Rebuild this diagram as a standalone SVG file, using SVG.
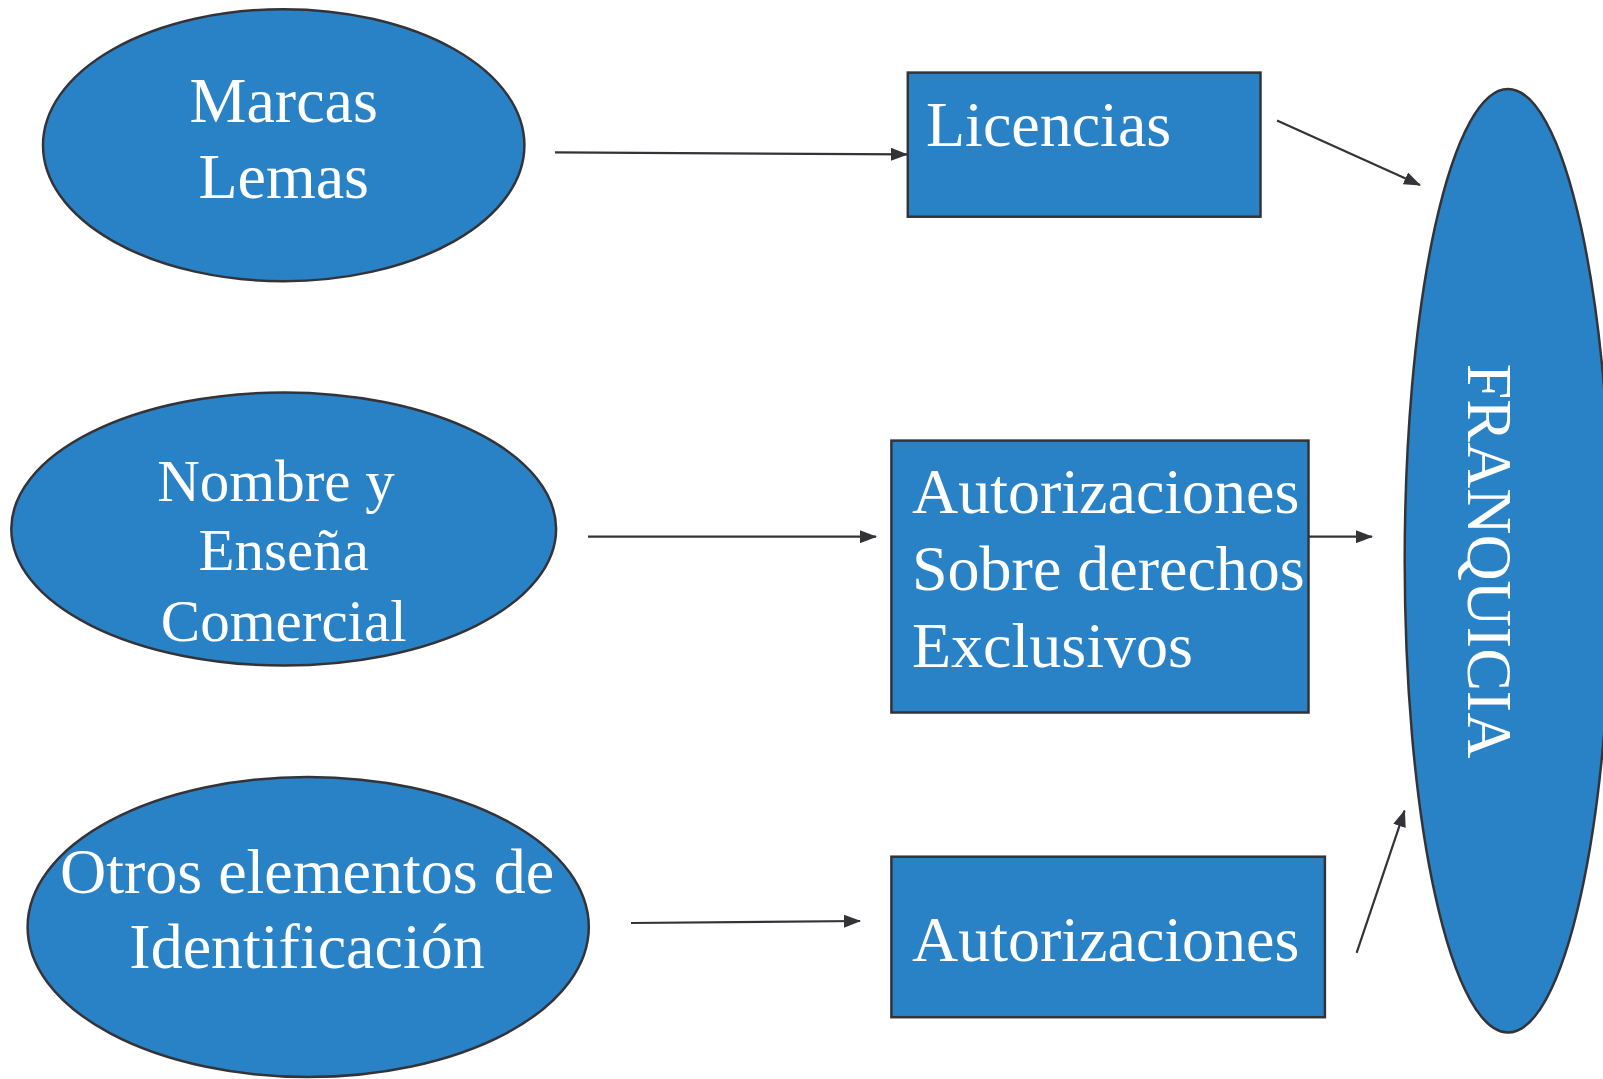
<svg xmlns="http://www.w3.org/2000/svg" width="1603" height="1079" viewBox="0 0 1603 1079">
<style>
.shape{fill:#2a82c6;stroke:#333338;stroke-width:2.5}
.lbl{font-family:"Liberation Serif","Times New Roman",serif;font-size:64px;fill:#ffffff}
.sm{font-size:59px}
.mid{text-anchor:middle}
.conn{stroke:#333338;stroke-width:2.2;fill:none;marker-end:url(#ah)}
</style>
<defs>
<marker id="ah" markerUnits="userSpaceOnUse" markerWidth="17" markerHeight="13" refX="16" refY="6.5" orient="auto">
<path d="M0,0 L17,6.5 L0,13 z" fill="#333338"/>
</marker>
</defs>
<rect width="1603" height="1079" fill="#ffffff"/>
<g id="connectors">
<line class="conn" x1="555" y1="152.3" x2="907" y2="154.4"/>
<line class="conn" x1="1277" y1="120.6" x2="1420" y2="185"/>
<line class="conn" x1="588" y1="536.7" x2="876" y2="536.7"/>
<line class="conn" x1="1309" y1="536.7" x2="1372" y2="536.7"/>
<line class="conn" x1="631" y1="923" x2="860" y2="921"/>
<line class="conn" x1="1356.6" y1="952.8" x2="1404.6" y2="810.7"/>
</g>
<g id="marcas">
<ellipse class="shape" cx="283.7" cy="145.2" rx="240.7" ry="136"/>
<text class="lbl mid" x="283.7" y="122">Marcas</text>
<text class="lbl mid" x="283.7" y="197.5">Lemas</text>
</g>
<g id="nombre">
<ellipse class="shape" cx="283.7" cy="529" rx="272.4" ry="136.5"/>
<text class="lbl sm mid" x="276" y="501">Nombre y</text>
<text class="lbl sm mid" x="283.7" y="570.4">Enseña</text>
<text class="lbl sm mid" x="283.7" y="641">Comercial</text>
</g>
<g id="otros">
<ellipse class="shape" cx="308.2" cy="927" rx="280.6" ry="150"/>
<text class="lbl mid" x="307" y="892.5">Otros elementos de</text>
<text class="lbl mid" x="307" y="968">Identificación</text>
</g>
<g id="licencias">
<rect class="shape" x="907.8" y="72.6" width="352.7" height="144.1"/>
<text class="lbl" x="926" y="146">Licencias</text>
</g>
<g id="autorizaciones-exclusivos">
<rect class="shape" x="891.4" y="440.6" width="417.1" height="271.9"/>
<text class="lbl" x="912" y="513">Autorizaciones</text>
<text class="lbl" x="912" y="590">Sobre derechos</text>
<text class="lbl" x="912" y="666.5">Exclusivos</text>
</g>
<g id="autorizaciones">
<rect class="shape" x="891.4" y="856.7" width="433.5" height="160.5"/>
<text class="lbl" x="912" y="961">Autorizaciones</text>
</g>
<g id="franquicia">
<ellipse class="shape" cx="1508" cy="560.7" rx="103.3" ry="471.8"/>
<text class="lbl mid" transform="translate(1468,561) rotate(90)" x="0" y="0">FRANQUICIA</text>
</g>
</svg>
